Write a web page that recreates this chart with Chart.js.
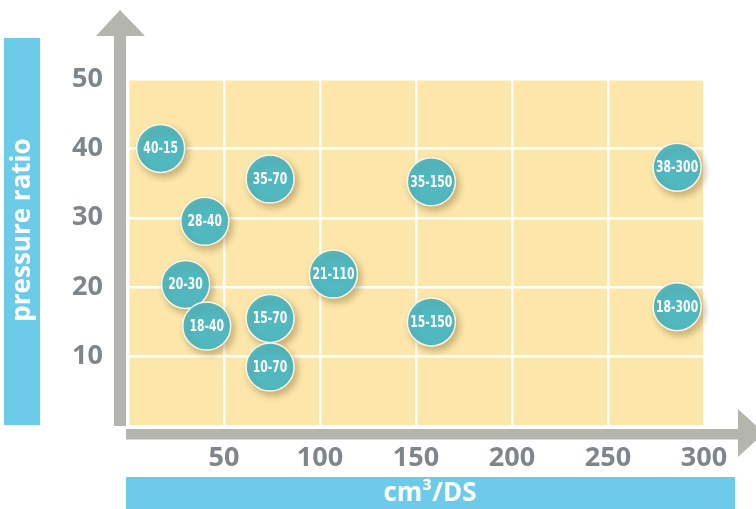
<!DOCTYPE html>
<html>
<head>
<meta charset="utf-8">
<script src="https://cdn.jsdelivr.net/npm/chart.js@4.4.1/dist/chart.umd.min.js"></script>
<style>
  html, body { margin: 0; padding: 0; background: #fff; }
  #wrap { width: 756px; height: 509px; }
</style>
</head>
<body>
<div id="wrap"><canvas id="chart"></canvas></div>
<script>
// bubble labels: "pressure ratio - displacement"
var labels = ['40-15', '35-70', '28-40', '35-150', '38-300', '21-110',
              '20-30', '18-40', '15-70', '10-70', '15-150', '18-300'];
// cm3/DS
var displacement = [17, 74, 40, 158, 286, 107, 30, 41, 74, 74, 158, 286];
// pressure ratio
var ratio = [40, 35.6, 29.5, 35.2, 37.3, 21.9, 20.4, 14.4, 15.5, 8.5, 15, 17.2];

var xTicks = [50, 100, 150, 200, 250, 300];
var yTicks = [10, 20, 30, 40, 50];

var xTitle = 'cm³/DS';
var yTitle = 'pressure ratio';

var points = displacement.map(function (x, i) { return { x: x, y: ratio[i] }; });

var GREY = '#b5b5b0';
var BLUE = '#6dcbea';
var TICK = '#7f868b';

// yellow plot area, grey arrows and blue title bars
var decor = {
    id: 'decor',
    beforeDraw: function (chart) {
        var ctx = chart.ctx, a = chart.chartArea;
        ctx.save();
        ctx.fillStyle = '#fde6a9';
        ctx.fillRect(a.left, a.top, a.right - a.left, a.bottom - a.top);

        ctx.fillStyle = GREY;
        // vertical arrow
        ctx.fillRect(a.left - 14, 35, 12, a.bottom - 35);
        ctx.beginPath();
        ctx.moveTo(a.left - 32, 36);
        ctx.lineTo(a.left + 17, 36);
        ctx.lineTo(a.left - 8, 10);
        ctx.closePath();
        ctx.fill();
        // horizontal arrow
        ctx.fillRect(a.left - 2, a.bottom + 3, a.right + 36 - a.left, 10.5);
        ctx.beginPath();
        ctx.moveTo(a.right + 34, a.bottom - 17);
        ctx.lineTo(a.right + 34, a.bottom + 31);
        ctx.lineTo(a.right + 60, a.bottom + 7);
        ctx.closePath();
        ctx.fill();

        // title bars
        ctx.fillStyle = BLUE;
        ctx.fillRect(4, 38, 36, a.bottom - 1 - 38);
        ctx.fillRect(a.left - 2, 477, 609, 32);

        ctx.fillStyle = '#fff';
        ctx.font = 'bold 26px "Open Sans"';
        ctx.textAlign = 'center';
        ctx.textBaseline = 'middle';
        ctx.save();
        ctx.translate(22.5, 230);
        ctx.rotate(-Math.PI / 2);
        ctx.fillText(yTitle, 0, 0);
        ctx.restore();
        ctx.fillText(xTitle, 430, 494);
        ctx.restore();
    },
    beforeDatasetsDraw: function (chart) {
        var ctx = chart.ctx;
        ctx.save();
        ctx.shadowColor = 'rgba(90, 70, 20, 0.35)';
        ctx.shadowBlur = 6;
        ctx.shadowOffsetX = 3;
        ctx.shadowOffsetY = 4;
    },
    afterDatasetsDraw: function (chart) {
        var ctx = chart.ctx;
        ctx.restore();
        var meta = chart.getDatasetMeta(0);
        ctx.fillStyle = '#fff';
        ctx.font = 'bold 15px "DejaVu Sans", sans-serif';
        ctx.textAlign = 'center';
        ctx.textBaseline = 'middle';
        meta.data.forEach(function (el, i) {
            ctx.save();
            ctx.translate(el.x, el.y + 1);
            ctx.scale(0.72, 1);
            ctx.fillText(labels[i], 0, 0);
            ctx.restore();
        });
    }
};

var ctx = document.getElementById('chart').getContext('2d');
var chart = new Chart(ctx, {
    type: 'scatter',
    data: {
        labels: labels,
        datasets: [{
            data: points,
            pointRadius: 24,
            pointHoverRadius: 24,
            pointBackgroundColor: 'rgba(68, 184, 198, 0.9)',
            pointBorderColor: '#fdf6e6',
            pointBorderWidth: 1.5,
            clip: false
        }]
    },
    options: {
        responsive: true,
        maintainAspectRatio: false,
        animation: false,
        events: [],
        layout: { padding: { top: 79, right: 52, left: 0, bottom: 0 } },
        plugins: {
            legend: { display: false },
            tooltip: { enabled: false }
        },
        scales: {
            x: {
                type: 'linear',
                min: 0,
                max: 300,
                afterFit: function (s) { s.height = 83; },
                afterBuildTicks: function (s) {
                    s.ticks = [0].concat(xTicks).map(function (v) { return { value: v }; });
                },
                border: { display: false },
                grid: { color: '#fff', lineWidth: 2.5, drawTicks: false },
                ticks: {
                    padding: 16,
                    color: TICK,
                    font: { family: '"Open Sans"', size: 27, weight: 'bold' },
                    callback: function (v) { return v === 0 ? '' : v; }
                }
            },
            y: {
                type: 'linear',
                min: 0,
                max: 50,
                afterFit: function (s) { s.width = 128; },
                afterBuildTicks: function (s) {
                    s.ticks = [0].concat(yTicks).map(function (v) { return { value: v }; });
                },
                border: { display: false },
                grid: { color: '#fff', lineWidth: 2.5, drawTicks: false },
                ticks: {
                    padding: 25,
                    color: TICK,
                    font: { family: '"Open Sans"', size: 27, weight: 'bold' },
                    callback: function (v) { return v === 0 ? '' : v; }
                }
            }
        }
    },
    plugins: [decor]
});
</script>
</body>
</html>
